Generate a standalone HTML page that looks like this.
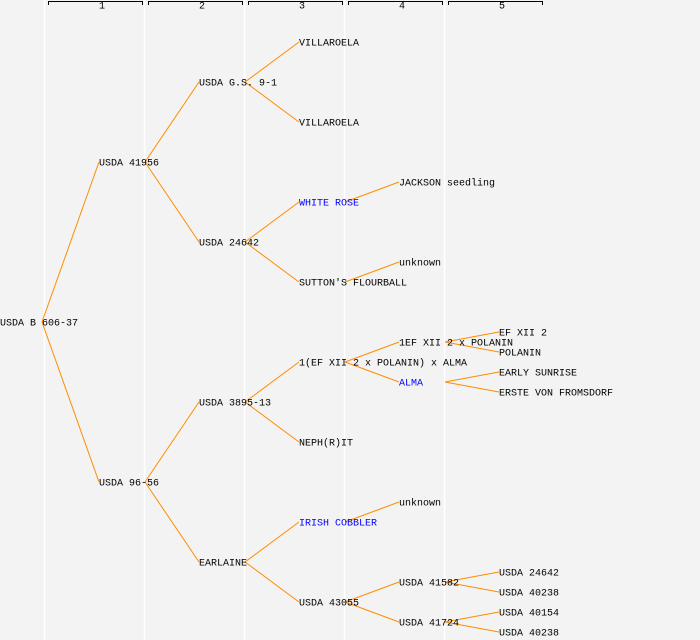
<!DOCTYPE html>
<html><head><style>body{margin:0;background:#f3f3f3}svg{display:block}text{font-family:"Liberation Mono",monospace;font-size:10px;dominant-baseline:central}</style></head><body>
<svg width="700" height="640" xmlns="http://www.w3.org/2000/svg">
<rect width="700" height="640" fill="#f3f3f3"/>
<g stroke="#fff" stroke-width="1.5"><line x1="44.5" y1="0" x2="44.5" y2="640"/><line x1="144.5" y1="0" x2="144.5" y2="640"/><line x1="244.5" y1="0" x2="244.5" y2="640"/><line x1="344.5" y1="0" x2="344.5" y2="640"/><line x1="444.5" y1="0" x2="444.5" y2="640"/></g>
<g stroke="#000" fill="none"><path d="M48.5 5V1.5H142.5V5"/><path d="M148.5 5V1.5H242.5V5"/><path d="M248.5 5V1.5H342.5V5"/><path d="M348.5 5V1.5H442.5V5"/><path d="M448.5 5V1.5H542.5V5"/></g>
<g style="font-size:8px" text-anchor="middle"><text x="102" y="7">1</text><text x="202" y="7">2</text><text x="302" y="7">3</text><text x="402" y="7">4</text><text x="502" y="7">5</text></g>
<g stroke="#ff8c00" stroke-width="1">
<line x1="42" y1="322" x2="99" y2="162"/><line x1="42" y1="322" x2="99" y2="482"/>
<line x1="145" y1="162" x2="199" y2="82"/><line x1="145" y1="162" x2="199" y2="242"/>
<line x1="145" y1="482" x2="199" y2="402"/><line x1="145" y1="482" x2="199" y2="562"/>
<line x1="245" y1="82" x2="299" y2="42"/><line x1="245" y1="82" x2="299" y2="122"/>
<line x1="245" y1="242" x2="299" y2="202"/><line x1="245" y1="242" x2="299" y2="282"/>
<line x1="245" y1="402" x2="299" y2="362"/><line x1="245" y1="402" x2="299" y2="442"/>
<line x1="245" y1="562" x2="299" y2="522"/><line x1="245" y1="562" x2="299" y2="602"/>
<line x1="345" y1="202" x2="399" y2="182"/><line x1="345" y1="282" x2="399" y2="262"/>
<line x1="345" y1="362" x2="399" y2="342"/><line x1="345" y1="362" x2="399" y2="382"/>
<line x1="345" y1="522" x2="399" y2="502"/>
<line x1="345" y1="602" x2="399" y2="582"/><line x1="345" y1="602" x2="399" y2="622"/>
<line x1="445" y1="342" x2="499" y2="332"/><line x1="445" y1="342" x2="499" y2="352"/>
<line x1="445" y1="382" x2="499" y2="372"/><line x1="445" y1="382" x2="499" y2="392"/>
<line x1="445" y1="582" x2="499" y2="572"/><line x1="445" y1="582" x2="499" y2="592"/>
<line x1="445" y1="622" x2="499" y2="612"/><line x1="445" y1="622" x2="499" y2="632"/>
</g>
<g fill="#000" transform="translate(0,2)">
<text x="0" y="322">USDA B 606-37</text>
<text x="99" y="162">USDA 41956</text><text x="99" y="482">USDA 96-56</text>
<text x="199" y="82">USDA G.S. 9-1</text><text x="199" y="242">USDA 24642</text><text x="199" y="402">USDA 3895-13</text><text x="199" y="562">EARLAINE</text>
<text x="299" y="42">VILLAROELA</text><text x="299" y="122">VILLAROELA</text>
<text x="299" y="202" fill="#0000ff">WHITE ROSE</text><text x="299" y="282">SUTTON'S FLOURBALL</text>
<text x="299" y="362">1(EF XII 2 x POLANIN) x ALMA</text><text x="299" y="442">NEPH(R)IT</text>
<text x="299" y="522" fill="#0000ff">IRISH COBBLER</text><text x="299" y="602">USDA 43055</text>
<text x="399" y="182">JACKSON seedling</text><text x="399" y="262">unknown</text>
<text x="399" y="342">1EF XII 2 x POLANIN</text><text x="399" y="382" fill="#0000ff">ALMA</text>
<text x="399" y="502">unknown</text><text x="399" y="582">USDA 41582</text><text x="399" y="622">USDA 41724</text>
<text x="499" y="332">EF XII 2</text><text x="499" y="352">POLANIN</text>
<text x="499" y="372">EARLY SUNRISE</text><text x="499" y="392">ERSTE VON FROMSDORF</text>
<text x="499" y="572">USDA 24642</text><text x="499" y="592">USDA 40238</text>
<text x="499" y="612">USDA 40154</text><text x="499" y="632">USDA 40238</text>
</g>
</svg>
</body></html>
